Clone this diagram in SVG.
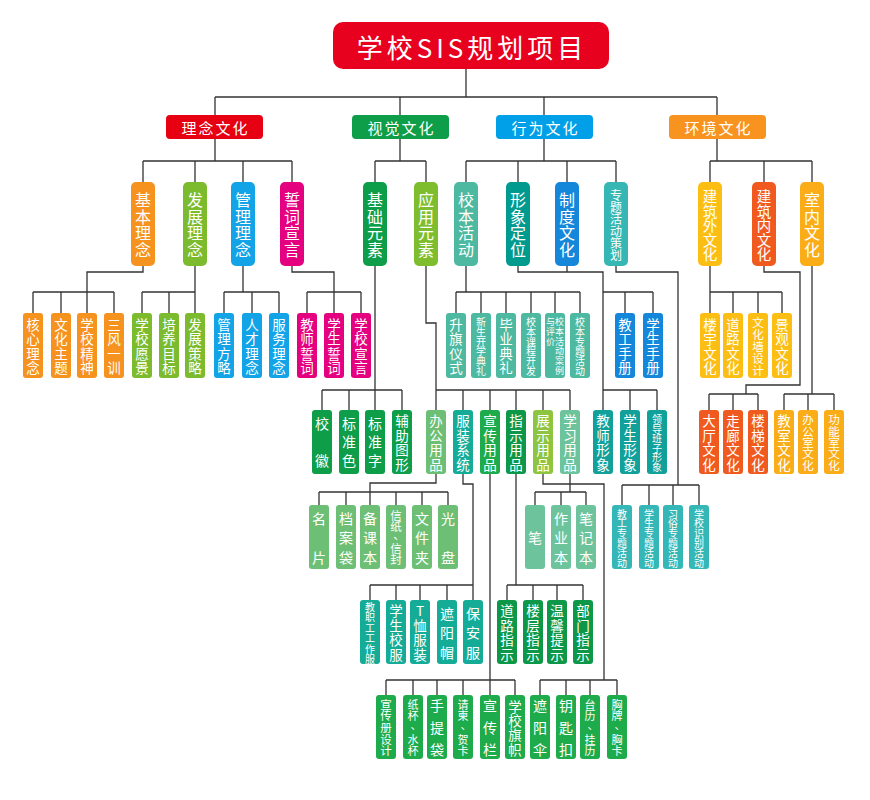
<svg xmlns="http://www.w3.org/2000/svg" width="870" height="800" viewBox="0 0 870 800">
<style>
.t{fill:#fff;font-family:"Noto Sans CJK SC","Noto Sans",sans-serif;text-anchor:middle;dominant-baseline:central}
.c-red{fill:#E60012}.c-org{fill:#F6921E}.c-lg{fill:#7CBB2E}.c-blu{fill:#13A3E7}.c-pnk{fill:#E5007F}
.c-grn{fill:#0E9D48}.c-yg{fill:#7EBE2E}.c-tl{fill:#4DB9A0}.c-dt{fill:#009A8F}.c-db{fill:#1587DA}
.c-lt{fill:#37B7B3}.c-yel{fill:#FDBE14}.c-or2{fill:#F15A1E}.c-amb{fill:#FBAD17}.c-sky{fill:#00A0E9}
.c-env{fill:#F7931E}.c-off{fill:#6DBF76}.c-clo{fill:#15AC97}.c-pub{fill:#1EAB4C}.c-ind{fill:#0D9849}
.c-dis{fill:#8DC540}.c-stu{fill:#6DC49C}.c-img{fill:#11A09A}.c-act{fill:#35B7B7}
.ln{fill:none;stroke:#333;stroke-width:1.3}
</style>
<rect width="870" height="800" fill="#fff"/>
<g id="connectors" class="ln">
<path d="M466,69V97 M215,97H717 M215,97V115 M400,97V115 M544,97V115 M717,97V115"/>
<path d="M215,139V161 M143,161H292 M143,161V182 M195,161V182 M243,161V182 M292,161V182"/>
<path d="M400,139V161 M375,161H426 M375,161V182 M426,161V182"/>
<path d="M544,139V161 M466,161H616 M466,161V182 M518,161V182 M567,161V182 M616,161V182"/>
<path d="M717,139V161 M710,161H812 M710,161V182 M764,161V182 M812,161V182"/>
<path d="M143,266V272H87V313 M33,292H114 M33,292V313 M61,292V313 M114,292V313"/>
<path d="M195,266V313 M142,292H195 M142,292V313 M169,292V313"/>
<path d="M243,266V292 M224,292H279 M224,292V313 M252,292V313 M279,292V313"/>
<path d="M292,266V272H334V313 M307,292H361 M307,292V313 M361,292V313"/>
<path d="M375,266V410 M322,390H402 M322,390V410 M349,390V410 M402,390V410"/>
<path d="M426,266V323H436V410 M436,390H570 M463,390V410 M490,390V410 M516,390V410 M543,390V410 M570,390V410"/>
<path d="M466,266V292 M456,292H580 M456,292V313 M481,292V313 M506,292V313 M531,292V313 M555,292V313 M580,292V313"/>
<path d="M518,266V272H603V410 M567,266V272 M603,292H653 M625,292V313 M653,292V313 M603,390H657 M630,390V410 M657,390V410"/>
<path d="M616,266V272H678V485 M622,485H699 M622,485V505 M649,485V505 M673,485V505 M699,485V505"/>
<path d="M710,266V313 M710,292H782 M733,292V313 M758,292V313 M782,292V313"/>
<path d="M764,266V272H800V385H746V394 M709,394H758 M709,394V410 M733,394V410 M758,394V410"/>
<path d="M812,266V394 M784,394H834 M784,394V410 M808,394V410 M834,394V410"/>
<path d="M436,474V483H370V505 M319,492H448 M319,492V505 M346,492V505 M396,492V505 M422,492V505 M448,492V505"/>
<path d="M463,474V484H473V600 M370,585H473 M370,585V600 M396,585V600 M420,585V600 M447,585V600"/>
<path d="M490,474V695 M386,680H515 M386,680V695 M413,680V695 M437,680V695 M463,680V695 M515,680V695"/>
<path d="M516,474V585 M507,585H583 M507,585V600 M533,585V600 M557,585V600 M583,585V600"/>
<path d="M543,474V484H604V680 M540,680H617 M540,680V695 M566,680V695 M590,680V695 M617,680V695"/>
<path d="M570,474V492 M535,492H586 M535,492V505 M561,492V505 M586,492V505"/>
</g>

<g id="root"><rect x="333" y="22" width="276" height="47" rx="10" fill="#E8001F"/><text class="t" x="472" y="46" font-size="26" letter-spacing="4">学校SIS规划项目</text></g>

<g id="l1-linian"><rect class="c-red" x="166" y="115" width="97" height="24" rx="4"/><text class="t" x="215.5" y="127" font-size="15" letter-spacing="2">理念文化</text></g>
<g id="l1-shijue"><rect class="c-grn" x="352" y="115" width="97" height="24" rx="4"/><text class="t" x="401.5" y="127" font-size="15" letter-spacing="2">视觉文化</text></g>
<g id="l1-xingwei"><rect class="c-sky" x="496" y="115" width="97" height="24" rx="4"/><text class="t" x="545.5" y="127" font-size="15" letter-spacing="2">行为文化</text></g>
<g id="l1-huanjing"><rect class="c-env" x="669" y="115" width="97" height="24" rx="4"/><text class="t" x="718.5" y="127" font-size="15" letter-spacing="2">环境文化</text></g>

<g id="l2-jiben"><rect class="c-org" x="131" y="182" width="24" height="84" rx="5"/><text class="t" font-size="16"><tspan x="143" y="199.3">基</tspan><tspan x="143" y="215.8">本</tspan><tspan x="143" y="232.3">理</tspan><tspan x="143" y="248.8">念</tspan></text></g>
<g id="l2-fazhan"><rect class="c-lg" x="183" y="182" width="24" height="84" rx="5"/><text class="t" font-size="16"><tspan x="195" y="199.3">发</tspan><tspan x="195" y="215.8">展</tspan><tspan x="195" y="232.3">理</tspan><tspan x="195" y="248.8">念</tspan></text></g>
<g id="l2-guanli"><rect class="c-blu" x="231" y="182" width="24" height="84" rx="5"/><text class="t" font-size="16"><tspan x="243" y="199.3">管</tspan><tspan x="243" y="215.8">理</tspan><tspan x="243" y="232.3">理</tspan><tspan x="243" y="248.8">念</tspan></text></g>
<g id="l2-shici"><rect class="c-pnk" x="280" y="182" width="24" height="84" rx="5"/><text class="t" font-size="16"><tspan x="292" y="199.3">誓</tspan><tspan x="292" y="215.8">词</tspan><tspan x="292" y="232.3">宣</tspan><tspan x="292" y="248.8">言</tspan></text></g>
<g id="l2-jichu"><rect class="c-grn" x="363" y="182" width="24" height="84" rx="5"/><text class="t" font-size="16"><tspan x="375" y="199.3">基</tspan><tspan x="375" y="215.8">础</tspan><tspan x="375" y="232.3">元</tspan><tspan x="375" y="248.8">素</tspan></text></g>
<g id="l2-yingyong"><rect class="c-yg" x="414" y="182" width="24" height="84" rx="5"/><text class="t" font-size="16"><tspan x="426" y="199.3">应</tspan><tspan x="426" y="215.8">用</tspan><tspan x="426" y="232.3">元</tspan><tspan x="426" y="248.8">素</tspan></text></g>
<g id="l2-xiaoben"><rect class="c-tl" x="454" y="182" width="24" height="84" rx="5"/><text class="t" font-size="16"><tspan x="466" y="199.3">校</tspan><tspan x="466" y="215.8">本</tspan><tspan x="466" y="232.3">活</tspan><tspan x="466" y="248.8">动</tspan></text></g>
<g id="l2-xingxiang"><rect class="c-dt" x="506" y="182" width="24" height="84" rx="5"/><text class="t" font-size="16"><tspan x="518" y="199.3">形</tspan><tspan x="518" y="215.8">象</tspan><tspan x="518" y="232.3">定</tspan><tspan x="518" y="248.8">位</tspan></text></g>
<g id="l2-zhidu"><rect class="c-db" x="555" y="182" width="24" height="84" rx="5"/><text class="t" font-size="16"><tspan x="567" y="199.3">制</tspan><tspan x="567" y="215.8">度</tspan><tspan x="567" y="232.3">文</tspan><tspan x="567" y="248.8">化</tspan></text></g>
<g id="l2-zhuanti"><rect class="c-lt" x="604" y="182" width="24" height="84" rx="5"/><text class="t" font-size="12"><tspan x="616" y="194">专</tspan><tspan x="616" y="206">题</tspan><tspan x="616" y="218">活</tspan><tspan x="616" y="230">动</tspan><tspan x="616" y="242">策</tspan><tspan x="616" y="254">划</tspan></text></g>
<g id="l2-jianzhuwai"><rect class="c-yel" x="698" y="182" width="24" height="84" rx="5"/><text class="t" font-size="14.5"><tspan x="710" y="195">建</tspan><tspan x="710" y="209.5">筑</tspan><tspan x="710" y="224">外</tspan><tspan x="710" y="238.5">文</tspan><tspan x="710" y="253">化</tspan></text></g>
<g id="l2-jianzhunei"><rect class="c-or2" x="752" y="182" width="24" height="84" rx="5"/><text class="t" font-size="14.5"><tspan x="764" y="195">建</tspan><tspan x="764" y="209.5">筑</tspan><tspan x="764" y="224">内</tspan><tspan x="764" y="238.5">文</tspan><tspan x="764" y="253">化</tspan></text></g>
<g id="l2-shinei"><rect class="c-amb" x="800" y="182" width="24" height="84" rx="5"/><text class="t" font-size="16"><tspan x="812" y="199.3">室</tspan><tspan x="812" y="215.8">内</tspan><tspan x="812" y="232.3">文</tspan><tspan x="812" y="248.8">化</tspan></text></g>

<g id="l3-hexin"><rect class="c-org" x="23" y="313" width="20" height="65" rx="3"/><text class="t" font-size="13.5"><tspan x="33" y="323.8">核</tspan><tspan x="33" y="338.3">心</tspan><tspan x="33" y="352.8">理</tspan><tspan x="33" y="367.3">念</tspan></text></g>
<g id="l3-wenhuazhuti"><rect class="c-org" x="51" y="313" width="20" height="65" rx="3"/><text class="t" font-size="13.5"><tspan x="61" y="323.8">文</tspan><tspan x="61" y="338.3">化</tspan><tspan x="61" y="352.8">主</tspan><tspan x="61" y="367.3">题</tspan></text></g>
<g id="l3-jingshen"><rect class="c-org" x="77" y="313" width="20" height="65" rx="3"/><text class="t" font-size="13.5"><tspan x="87" y="323.8">学</tspan><tspan x="87" y="338.3">校</tspan><tspan x="87" y="352.8">精</tspan><tspan x="87" y="367.3">神</tspan></text></g>
<g id="l3-sanfeng"><rect class="c-org" x="104" y="313" width="20" height="65" rx="3"/><text class="t" font-size="13.5"><tspan x="114" y="323.8">三</tspan><tspan x="114" y="338.3">风</tspan><tspan x="114" y="352.8">一</tspan><tspan x="114" y="367.3">训</tspan></text></g>
<g id="l3-yuanjing"><rect class="c-lg" x="132" y="313" width="20" height="65" rx="3"/><text class="t" font-size="13.5"><tspan x="142" y="323.8">学</tspan><tspan x="142" y="338.3">校</tspan><tspan x="142" y="352.8">愿</tspan><tspan x="142" y="367.3">景</tspan></text></g>
<g id="l3-peiyang"><rect class="c-lg" x="159" y="313" width="20" height="65" rx="3"/><text class="t" font-size="13.5"><tspan x="169" y="323.8">培</tspan><tspan x="169" y="338.3">养</tspan><tspan x="169" y="352.8">目</tspan><tspan x="169" y="367.3">标</tspan></text></g>
<g id="l3-celue"><rect class="c-lg" x="185" y="313" width="20" height="65" rx="3"/><text class="t" font-size="13.5"><tspan x="195" y="323.8">发</tspan><tspan x="195" y="338.3">展</tspan><tspan x="195" y="352.8">策</tspan><tspan x="195" y="367.3">略</tspan></text></g>
<g id="l3-fanglue"><rect class="c-blu" x="214" y="313" width="20" height="65" rx="3"/><text class="t" font-size="13.5"><tspan x="224" y="323.8">管</tspan><tspan x="224" y="338.3">理</tspan><tspan x="224" y="352.8">方</tspan><tspan x="224" y="367.3">略</tspan></text></g>
<g id="l3-rencai"><rect class="c-blu" x="242" y="313" width="20" height="65" rx="3"/><text class="t" font-size="13.5"><tspan x="252" y="323.8">人</tspan><tspan x="252" y="338.3">才</tspan><tspan x="252" y="352.8">理</tspan><tspan x="252" y="367.3">念</tspan></text></g>
<g id="l3-fuwu"><rect class="c-blu" x="269" y="313" width="20" height="65" rx="3"/><text class="t" font-size="13.5"><tspan x="279" y="323.8">服</tspan><tspan x="279" y="338.3">务</tspan><tspan x="279" y="352.8">理</tspan><tspan x="279" y="367.3">念</tspan></text></g>
<g id="l3-jiaoshi"><rect class="c-pnk" x="297" y="313" width="20" height="65" rx="3"/><text class="t" font-size="13.5"><tspan x="307" y="323.8">教</tspan><tspan x="307" y="338.3">师</tspan><tspan x="307" y="352.8">誓</tspan><tspan x="307" y="367.3">词</tspan></text></g>
<g id="l3-xuesheng"><rect class="c-pnk" x="324" y="313" width="20" height="65" rx="3"/><text class="t" font-size="13.5"><tspan x="334" y="323.8">学</tspan><tspan x="334" y="338.3">生</tspan><tspan x="334" y="352.8">誓</tspan><tspan x="334" y="367.3">词</tspan></text></g>
<g id="l3-xuanyan"><rect class="c-pnk" x="351" y="313" width="20" height="65" rx="3"/><text class="t" font-size="13.5"><tspan x="361" y="323.8">学</tspan><tspan x="361" y="338.3">校</tspan><tspan x="361" y="352.8">宣</tspan><tspan x="361" y="367.3">言</tspan></text></g>
<g id="l3-shengqi"><rect class="c-tl" x="446" y="313" width="20" height="65" rx="3"/><text class="t" font-size="13.5"><tspan x="456" y="323.8">升</tspan><tspan x="456" y="338.3">旗</tspan><tspan x="456" y="352.8">仪</tspan><tspan x="456" y="367.3">式</tspan></text></g>
<g id="l3-kaixue"><rect class="c-tl" x="471" y="313" width="20" height="65" rx="3"/><text class="t" font-size="10"><tspan x="481" y="321">新</tspan><tspan x="481" y="330.8">生</tspan><tspan x="481" y="340.6">开</tspan><tspan x="481" y="350.4">学</tspan><tspan x="481" y="360.2">典</tspan><tspan x="481" y="370">礼</tspan></text></g>
<g id="l3-biye"><rect class="c-tl" x="496" y="313" width="20" height="65" rx="3"/><text class="t" font-size="13.5"><tspan x="506" y="323.8">毕</tspan><tspan x="506" y="338.3">业</tspan><tspan x="506" y="352.8">典</tspan><tspan x="506" y="367.3">礼</tspan></text></g>
<g id="l3-kecheng"><rect class="c-tl" x="521" y="313" width="20" height="65" rx="3"/><text class="t" font-size="10"><tspan x="531" y="321">校</tspan><tspan x="531" y="330.8">本</tspan><tspan x="531" y="340.6">课</tspan><tspan x="531" y="350.4">程</tspan><tspan x="531" y="360.2">开</tspan><tspan x="531" y="370">发</tspan></text></g>
<g id="l3-anli"><rect class="c-tl" x="545" y="313" width="20" height="65" rx="3"/><text class="t" font-size="9"><tspan x="559.5" y="321">校</tspan><tspan x="559.5" y="330.8">本</tspan><tspan x="559.5" y="340.6">活</tspan><tspan x="559.5" y="350.4">动</tspan><tspan x="559.5" y="360.2">案</tspan><tspan x="559.5" y="370">例</tspan><tspan x="550.5" y="321">与</tspan><tspan x="550.5" y="330.8">评</tspan><tspan x="550.5" y="340.6">价</tspan></text></g>
<g id="l3-zhuanti"><rect class="c-tl" x="570" y="313" width="20" height="65" rx="3"/><text class="t" font-size="10"><tspan x="580" y="321">校</tspan><tspan x="580" y="330.8">本</tspan><tspan x="580" y="340.6">专</tspan><tspan x="580" y="350.4">题</tspan><tspan x="580" y="360.2">活</tspan><tspan x="580" y="370">动</tspan></text></g>
<g id="l3-jiaogong"><rect class="c-db" x="615" y="313" width="20" height="65" rx="3"/><text class="t" font-size="13.5"><tspan x="625" y="323.8">教</tspan><tspan x="625" y="338.3">工</tspan><tspan x="625" y="352.8">手</tspan><tspan x="625" y="367.3">册</tspan></text></g>
<g id="l3-xueshengshouce"><rect class="c-db" x="643" y="313" width="20" height="65" rx="3"/><text class="t" font-size="13.5"><tspan x="653" y="323.8">学</tspan><tspan x="653" y="338.3">生</tspan><tspan x="653" y="352.8">手</tspan><tspan x="653" y="367.3">册</tspan></text></g>
<g id="l3-louyu"><rect class="c-yel" x="700" y="313" width="20" height="65" rx="3"/><text class="t" font-size="13.5"><tspan x="710" y="323.8">楼</tspan><tspan x="710" y="338.3">宇</tspan><tspan x="710" y="352.8">文</tspan><tspan x="710" y="367.3">化</tspan></text></g>
<g id="l3-daolu"><rect class="c-yel" x="723" y="313" width="20" height="65" rx="3"/><text class="t" font-size="13.5"><tspan x="733" y="323.8">道</tspan><tspan x="733" y="338.3">路</tspan><tspan x="733" y="352.8">文</tspan><tspan x="733" y="367.3">化</tspan></text></g>
<g id="l3-wenhuaqiang"><rect class="c-yel" x="748" y="313" width="20" height="65" rx="3"/><text class="t" font-size="11.5"><tspan x="758" y="321.5">文</tspan><tspan x="758" y="333.5">化</tspan><tspan x="758" y="345.5">墙</tspan><tspan x="758" y="357.5">设</tspan><tspan x="758" y="369.5">计</tspan></text></g>
<g id="l3-jingguan"><rect class="c-yel" x="772" y="313" width="20" height="65" rx="3"/><text class="t" font-size="13.5"><tspan x="782" y="323.8">景</tspan><tspan x="782" y="338.3">观</tspan><tspan x="782" y="352.8">文</tspan><tspan x="782" y="367.3">化</tspan></text></g>

<g id="l4-xiaohui"><rect class="c-grn" x="312" y="410" width="20" height="64" rx="3"/><text class="t" font-size="14"><tspan x="322" y="422.5">校</tspan><tspan x="322" y="459.5">徽</tspan></text></g>
<g id="l4-biaozhunse"><rect class="c-grn" x="339" y="410" width="20" height="64" rx="3"/><text class="t" font-size="14"><tspan x="349" y="422.5">标</tspan><tspan x="349" y="441">准</tspan><tspan x="349" y="459.5">色</tspan></text></g>
<g id="l4-biaozhunzi"><rect class="c-grn" x="365" y="410" width="20" height="64" rx="3"/><text class="t" font-size="14"><tspan x="375" y="422.5">标</tspan><tspan x="375" y="441">准</tspan><tspan x="375" y="459.5">字</tspan></text></g>
<g id="l4-fuzhu"><rect class="c-grn" x="392" y="410" width="20" height="64" rx="3"/><text class="t" font-size="13.5"><tspan x="402" y="420.3">辅</tspan><tspan x="402" y="434.8">助</tspan><tspan x="402" y="449.3">图</tspan><tspan x="402" y="463.8">形</tspan></text></g>
<g id="l4-bangong"><rect class="c-off" x="426" y="410" width="20" height="64" rx="3"/><text class="t" font-size="13.5"><tspan x="436" y="420.3">办</tspan><tspan x="436" y="434.8">公</tspan><tspan x="436" y="449.3">用</tspan><tspan x="436" y="463.8">品</tspan></text></g>
<g id="l4-fuzhuang"><rect class="c-clo" x="453" y="410" width="20" height="64" rx="3"/><text class="t" font-size="13.5"><tspan x="463" y="420.3">服</tspan><tspan x="463" y="434.8">装</tspan><tspan x="463" y="449.3">系</tspan><tspan x="463" y="463.8">统</tspan></text></g>
<g id="l4-xuanchuan"><rect class="c-pub" x="480" y="410" width="20" height="64" rx="3"/><text class="t" font-size="13.5"><tspan x="490" y="420.3">宣</tspan><tspan x="490" y="434.8">传</tspan><tspan x="490" y="449.3">用</tspan><tspan x="490" y="463.8">品</tspan></text></g>
<g id="l4-zhishi"><rect class="c-ind" x="506" y="410" width="20" height="64" rx="3"/><text class="t" font-size="13.5"><tspan x="516" y="420.3">指</tspan><tspan x="516" y="434.8">示</tspan><tspan x="516" y="449.3">用</tspan><tspan x="516" y="463.8">品</tspan></text></g>
<g id="l4-zhanshi"><rect class="c-dis" x="533" y="410" width="20" height="64" rx="3"/><text class="t" font-size="13.5"><tspan x="543" y="420.3">展</tspan><tspan x="543" y="434.8">示</tspan><tspan x="543" y="449.3">用</tspan><tspan x="543" y="463.8">品</tspan></text></g>
<g id="l4-xuexi"><rect class="c-stu" x="560" y="410" width="20" height="64" rx="3"/><text class="t" font-size="13.5"><tspan x="570" y="420.3">学</tspan><tspan x="570" y="434.8">习</tspan><tspan x="570" y="449.3">用</tspan><tspan x="570" y="463.8">品</tspan></text></g>
<g id="l4-jiaoshixingxiang"><rect class="c-img" x="593" y="410" width="20" height="64" rx="3"/><text class="t" font-size="13.5"><tspan x="603" y="420.3">教</tspan><tspan x="603" y="434.8">师</tspan><tspan x="603" y="449.3">形</tspan><tspan x="603" y="463.8">象</tspan></text></g>
<g id="l4-xueshengxingxiang"><rect class="c-img" x="620" y="410" width="20" height="64" rx="3"/><text class="t" font-size="13.5"><tspan x="630" y="420.3">学</tspan><tspan x="630" y="434.8">生</tspan><tspan x="630" y="449.3">形</tspan><tspan x="630" y="463.8">象</tspan></text></g>
<g id="l4-lingdao"><rect class="c-img" x="647" y="410" width="20" height="64" rx="3"/><text class="t" font-size="10"><tspan x="657" y="418">领</tspan><tspan x="657" y="427.6">导</tspan><tspan x="657" y="437.2">班</tspan><tspan x="657" y="446.8">子</tspan><tspan x="657" y="456.4">形</tspan><tspan x="657" y="466">象</tspan></text></g>
<g id="l4-dating"><rect class="c-or2" x="699" y="410" width="20" height="64" rx="3"/><text class="t" font-size="13.5"><tspan x="709" y="420.3">大</tspan><tspan x="709" y="434.8">厅</tspan><tspan x="709" y="449.3">文</tspan><tspan x="709" y="463.8">化</tspan></text></g>
<g id="l4-zoulang"><rect class="c-or2" x="723" y="410" width="20" height="64" rx="3"/><text class="t" font-size="13.5"><tspan x="733" y="420.3">走</tspan><tspan x="733" y="434.8">廊</tspan><tspan x="733" y="449.3">文</tspan><tspan x="733" y="463.8">化</tspan></text></g>
<g id="l4-louti"><rect class="c-or2" x="748" y="410" width="20" height="64" rx="3"/><text class="t" font-size="13.5"><tspan x="758" y="420.3">楼</tspan><tspan x="758" y="434.8">梯</tspan><tspan x="758" y="449.3">文</tspan><tspan x="758" y="463.8">化</tspan></text></g>
<g id="l4-jiaoshi"><rect class="c-amb" x="774" y="410" width="20" height="64" rx="3"/><text class="t" font-size="13.5"><tspan x="784" y="420.3">教</tspan><tspan x="784" y="434.8">室</tspan><tspan x="784" y="449.3">文</tspan><tspan x="784" y="463.8">化</tspan></text></g>
<g id="l4-bangongshi"><rect class="c-amb" x="798" y="410" width="20" height="64" rx="3"/><text class="t" font-size="11.5"><tspan x="808" y="419.4">办</tspan><tspan x="808" y="430.7">公</tspan><tspan x="808" y="442">室</tspan><tspan x="808" y="453.3">文</tspan><tspan x="808" y="464.6">化</tspan></text></g>
<g id="l4-gongneng"><rect class="c-amb" x="824" y="410" width="20" height="64" rx="3"/><text class="t" font-size="11.5"><tspan x="834" y="419.4">功</tspan><tspan x="834" y="430.7">能</tspan><tspan x="834" y="442">室</tspan><tspan x="834" y="453.3">文</tspan><tspan x="834" y="464.6">化</tspan></text></g>

<g id="l5-mingpian"><rect class="c-off" x="309" y="505" width="20" height="64" rx="3"/><text class="t" font-size="14"><tspan x="319" y="518">名</tspan><tspan x="319" y="556.5">片</tspan></text></g>
<g id="l5-dangan"><rect class="c-off" x="336" y="505" width="20" height="64" rx="3"/><text class="t" font-size="14"><tspan x="346" y="518">档</tspan><tspan x="346" y="537.2">案</tspan><tspan x="346" y="556.5">袋</tspan></text></g>
<g id="l5-beike"><rect class="c-off" x="360" y="505" width="20" height="64" rx="3"/><text class="t" font-size="14"><tspan x="370" y="518">备</tspan><tspan x="370" y="537.2">课</tspan><tspan x="370" y="556.5">本</tspan></text></g>
<g id="l5-xinzhi"><rect class="c-off" x="386" y="505" width="20" height="64" rx="3"/><text class="t" font-size="11.5"><tspan x="396" y="515">信</tspan><tspan x="396" y="526">纸</tspan><tspan x="399" y="534">、</tspan><tspan x="396" y="548">信</tspan><tspan x="396" y="559">封</tspan></text></g>
<g id="l5-wenjianjia"><rect class="c-off" x="412" y="505" width="20" height="64" rx="3"/><text class="t" font-size="14"><tspan x="422" y="518">文</tspan><tspan x="422" y="537.2">件</tspan><tspan x="422" y="556.5">夹</tspan></text></g>
<g id="l5-guangpan"><rect class="c-off" x="438" y="505" width="20" height="64" rx="3"/><text class="t" font-size="14"><tspan x="448" y="518">光</tspan><tspan x="448" y="556.5">盘</tspan></text></g>
<g id="l5-bi"><rect class="c-stu" x="525" y="505" width="20" height="64" rx="3"/><text class="t" font-size="14"><tspan x="535" y="537">笔</tspan></text></g>
<g id="l5-zuoye"><rect class="c-stu" x="551" y="505" width="20" height="64" rx="3"/><text class="t" font-size="14"><tspan x="561" y="518">作</tspan><tspan x="561" y="537.2">业</tspan><tspan x="561" y="556.5">本</tspan></text></g>
<g id="l5-biji"><rect class="c-stu" x="576" y="505" width="20" height="64" rx="3"/><text class="t" font-size="14"><tspan x="586" y="518">笔</tspan><tspan x="586" y="537.2">记</tspan><tspan x="586" y="556.5">本</tspan></text></g>
<g id="l5-jiaogongzhuanti"><rect class="c-act" x="612" y="505" width="20" height="64" rx="3"/><text class="t" font-size="10"><tspan x="622" y="512.5">教</tspan><tspan x="622" y="522.3">工</tspan><tspan x="622" y="532.1">专</tspan><tspan x="622" y="541.9">题</tspan><tspan x="622" y="551.7">活</tspan><tspan x="622" y="561.5">动</tspan></text></g>
<g id="l5-xueshengzhuanti"><rect class="c-act" x="639" y="505" width="20" height="64" rx="3"/><text class="t" font-size="10"><tspan x="649" y="512.5">学</tspan><tspan x="649" y="522.3">生</tspan><tspan x="649" y="532.1">专</tspan><tspan x="649" y="541.9">题</tspan><tspan x="649" y="551.7">活</tspan><tspan x="649" y="561.5">动</tspan></text></g>
<g id="l5-xisu"><rect class="c-act" x="663" y="505" width="20" height="64" rx="3"/><text class="t" font-size="10"><tspan x="673" y="512.5">习</tspan><tspan x="673" y="522.3">俗</tspan><tspan x="673" y="532.1">专</tspan><tspan x="673" y="541.9">题</tspan><tspan x="673" y="551.7">活</tspan><tspan x="673" y="561.5">动</tspan></text></g>
<g id="l5-shibie"><rect class="c-act" x="689" y="505" width="20" height="64" rx="3"/><text class="t" font-size="10"><tspan x="699" y="512.5">学</tspan><tspan x="699" y="522.3">校</tspan><tspan x="699" y="532.1">识</tspan><tspan x="699" y="541.9">别</tspan><tspan x="699" y="551.7">活</tspan><tspan x="699" y="561.5">动</tspan></text></g>

<g id="l6-gongzuofu"><rect class="c-clo" x="360" y="600" width="20" height="64" rx="3"/><text class="t" font-size="10"><tspan x="370" y="606">教</tspan><tspan x="370" y="616.4">职</tspan><tspan x="370" y="626.8">工</tspan><tspan x="370" y="637.2">工</tspan><tspan x="370" y="647.6">作</tspan><tspan x="370" y="658">服</tspan></text></g>
<g id="l6-xiaofu"><rect class="c-clo" x="386" y="600" width="20" height="64" rx="3"/><text class="t" font-size="13.5"><tspan x="396" y="610.3">学</tspan><tspan x="396" y="624.8">生</tspan><tspan x="396" y="639.3">校</tspan><tspan x="396" y="653.8">服</tspan></text></g>
<g id="l6-txu"><rect class="c-clo" x="410" y="600" width="20" height="64" rx="3"/><text class="t" font-size="13.5"><tspan x="420" y="610.3">T</tspan><tspan x="420" y="624.8">恤</tspan><tspan x="420" y="639.3">服</tspan><tspan x="420" y="653.8">装</tspan></text></g>
<g id="l6-zheyangmao"><rect class="c-clo" x="437" y="600" width="20" height="64" rx="3"/><text class="t" font-size="14"><tspan x="447" y="612.5">遮</tspan><tspan x="447" y="632">阳</tspan><tspan x="447" y="651.5">帽</tspan></text></g>
<g id="l6-baoan"><rect class="c-clo" x="463" y="600" width="20" height="64" rx="3"/><text class="t" font-size="14"><tspan x="473" y="612.5">保</tspan><tspan x="473" y="632">安</tspan><tspan x="473" y="651.5">服</tspan></text></g>
<g id="l6-daolu"><rect class="c-ind" x="497" y="600" width="20" height="64" rx="3"/><text class="t" font-size="13.5"><tspan x="507" y="610.3">道</tspan><tspan x="507" y="624.8">路</tspan><tspan x="507" y="639.3">指</tspan><tspan x="507" y="653.8">示</tspan></text></g>
<g id="l6-louceng"><rect class="c-ind" x="523" y="600" width="20" height="64" rx="3"/><text class="t" font-size="13.5"><tspan x="533" y="610.3">楼</tspan><tspan x="533" y="624.8">层</tspan><tspan x="533" y="639.3">指</tspan><tspan x="533" y="653.8">示</tspan></text></g>
<g id="l6-wenxin"><rect class="c-ind" x="547" y="600" width="20" height="64" rx="3"/><text class="t" font-size="13.5"><tspan x="557" y="610.3">温</tspan><tspan x="557" y="624.8">馨</tspan><tspan x="557" y="639.3">提</tspan><tspan x="557" y="653.8">示</tspan></text></g>
<g id="l6-bumen"><rect class="c-ind" x="573" y="600" width="20" height="64" rx="3"/><text class="t" font-size="13.5"><tspan x="583" y="610.3">部</tspan><tspan x="583" y="624.8">门</tspan><tspan x="583" y="639.3">指</tspan><tspan x="583" y="653.8">示</tspan></text></g>

<g id="l7-xuanchuance"><rect class="c-pub" x="376" y="695" width="20" height="64" rx="3"/><text class="t" font-size="11.5"><tspan x="386" y="703.6">宣</tspan><tspan x="386" y="715.3">传</tspan><tspan x="386" y="727">册</tspan><tspan x="386" y="738.7">设</tspan><tspan x="386" y="750.4">计</tspan></text></g>
<g id="l7-zhibei"><rect class="c-pub" x="403" y="695" width="20" height="64" rx="3"/><text class="t" font-size="11"><tspan x="413" y="703.6">纸</tspan><tspan x="413" y="715.3">杯</tspan><tspan x="416" y="724">、</tspan><tspan x="413" y="738.7">水</tspan><tspan x="413" y="750.4">杯</tspan></text></g>
<g id="l7-shoutidai"><rect class="c-pub" x="427" y="695" width="20" height="64" rx="3"/><text class="t" font-size="14"><tspan x="437" y="705">手</tspan><tspan x="437" y="727">提</tspan><tspan x="437" y="749">袋</tspan></text></g>
<g id="l7-qingjian"><rect class="c-pub" x="453" y="695" width="20" height="64" rx="3"/><text class="t" font-size="11"><tspan x="463" y="703.6">请</tspan><tspan x="463" y="715.3">柬</tspan><tspan x="466" y="724">、</tspan><tspan x="463" y="738.7">贺</tspan><tspan x="463" y="750.4">卡</tspan></text></g>
<g id="l7-xuanchuanlan"><rect class="c-pub" x="480" y="695" width="20" height="64" rx="3"/><text class="t" font-size="14"><tspan x="490" y="705">宣</tspan><tspan x="490" y="727">传</tspan><tspan x="490" y="749">栏</tspan></text></g>
<g id="l7-qizhi"><rect class="c-pub" x="505" y="695" width="20" height="64" rx="3"/><text class="t" font-size="13.5"><tspan x="515" y="705.5">学</tspan><tspan x="515" y="719.8">校</tspan><tspan x="515" y="734.2">旗</tspan><tspan x="515" y="748.5">帜</tspan></text></g>
<g id="l7-zheyangsan"><rect class="c-pub" x="530" y="695" width="20" height="64" rx="3"/><text class="t" font-size="14"><tspan x="540" y="705">遮</tspan><tspan x="540" y="727">阳</tspan><tspan x="540" y="749">伞</tspan></text></g>
<g id="l7-yaoshikou"><rect class="c-pub" x="556" y="695" width="20" height="64" rx="3"/><text class="t" font-size="14"><tspan x="566" y="705">钥</tspan><tspan x="566" y="727">匙</tspan><tspan x="566" y="749">扣</tspan></text></g>
<g id="l7-taili"><rect class="c-pub" x="580" y="695" width="20" height="64" rx="3"/><text class="t" font-size="11"><tspan x="590" y="703.6">台</tspan><tspan x="590" y="715.3">历</tspan><tspan x="593" y="724">、</tspan><tspan x="590" y="738.7">挂</tspan><tspan x="590" y="750.4">历</tspan></text></g>
<g id="l7-xiongpai"><rect class="c-pub" x="607" y="695" width="20" height="64" rx="3"/><text class="t" font-size="11"><tspan x="617" y="703.6">胸</tspan><tspan x="617" y="715.3">牌</tspan><tspan x="620" y="724">、</tspan><tspan x="617" y="738.7">胸</tspan><tspan x="617" y="750.4">卡</tspan></text></g>
</svg>
